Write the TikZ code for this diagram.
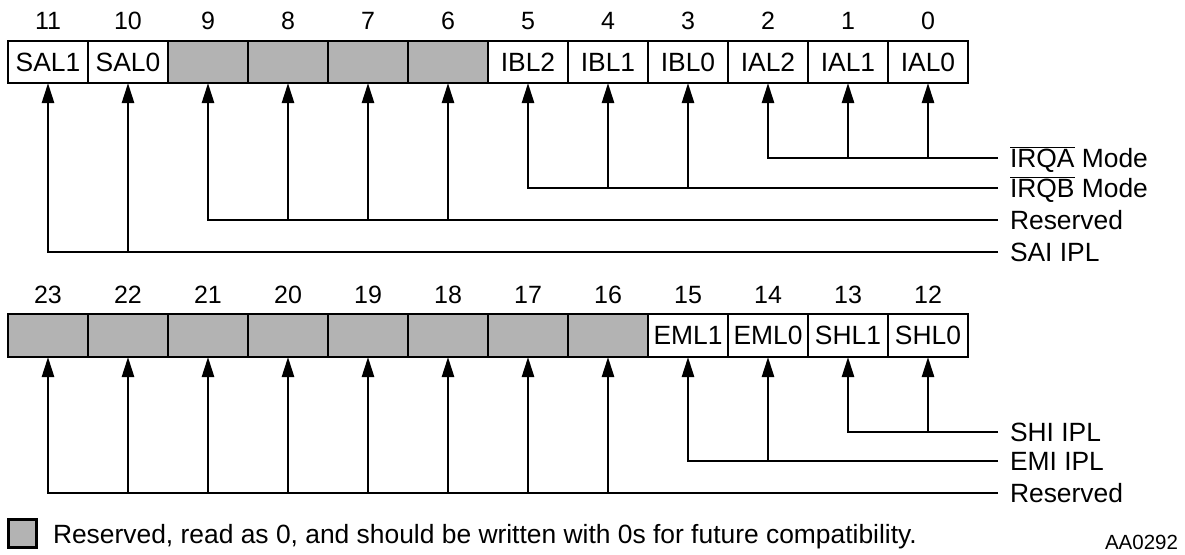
\documentclass[tikz,border=0pt]{standalone}
\usepackage{fontspec}
\setmainfont{Liberation Sans}
\usetikzlibrary{arrows.meta}
\definecolor{resgray}{RGB}{179,179,179}
\newcommand{\ovl}[1]{$\overline{\hbox{#1}}$}
\begin{document}
\begin{tikzpicture}[x=1pt,y=-1pt,
  every node/.style={font=\fontsize{26.4}{30}\selectfont, inner sep=0pt, outer sep=0pt},
  bitbox/.style={draw, line width=2.6pt, minimum width=80pt, minimum height=42pt, anchor=north west},
  resbox/.style={bitbox, fill=resgray},
  bitnum/.style={font=\fontsize{25}{28}\selectfont},
  arr/.style={line width=2.6pt, line join=miter, -{Triangle[length=20pt,width=12pt]}},
  lbl/.style={anchor=base west}]
\useasboundingbox (0,0) rectangle (1185,554);

% ---------- top register (bits 11..0)
\node[bitbox] (b11) at (8,41) {SAL1};
\node[bitbox] (b10) at (88,41) {SAL0};
\node[resbox] (b9) at (168,41) {};
\node[resbox] (b8) at (248,41) {};
\node[resbox] (b7) at (328,41) {};
\node[resbox] (b6) at (408,41) {};
\node[bitbox] (b5) at (488,41) {IBL2};
\node[bitbox] (b4) at (568,41) {IBL1};
\node[bitbox] (b3) at (648,41) {IBL0};
\node[bitbox] (b2) at (728,41) {IAL2};
\node[bitbox] (b1) at (808,41) {IAL1};
\node[bitbox] (b0) at (888,41) {IAL0};
\foreach \b in {0,...,11} \node[bitnum] (n\b) at (b\b.north |- 0,21) {\b};

% ---------- bottom register (bits 23..12)
\node[resbox, minimum height=43pt] (b23) at (8,314) {};
\node[resbox, minimum height=43pt] (b22) at (88,314) {};
\node[resbox, minimum height=43pt] (b21) at (168,314) {};
\node[resbox, minimum height=43pt] (b20) at (248,314) {};
\node[resbox, minimum height=43pt] (b19) at (328,314) {};
\node[resbox, minimum height=43pt] (b18) at (408,314) {};
\node[resbox, minimum height=43pt] (b17) at (488,314) {};
\node[resbox, minimum height=43pt] (b16) at (568,314) {};
\node[bitbox, minimum height=43pt] (b15) at (648,314) {EML1};
\node[bitbox, minimum height=43pt] (b14) at (728,314) {EML0};
\node[bitbox, minimum height=43pt] (b13) at (808,314) {SHL1};
\node[bitbox, minimum height=43pt] (b12) at (888,314) {SHL0};
\foreach \b in {12,...,23} \node[bitnum] (n\b) at (b\b.north |- 0,295) {\b};

% ---------- labels and line ends (top)
\coordinate (eA) at (998,158);
\coordinate (eB) at (998,188);
\coordinate (eR1) at (998,220);
\coordinate (eS) at (998,252);
\node[lbl] (tA) at (1010,167.5) {\ovl{IRQA} Mode};
\node[lbl] (tB) at (1010,197.5) {\ovl{IRQB} Mode};
\node[lbl] (tR1) at (1010,229.5) {Reserved};
\node[lbl] (tS) at (1010,261.5) {SAI IPL};

\foreach \b in {0,1,2} \coordinate (j\b) at (b\b.south |- eA);
\foreach \b in {3,4,5} \coordinate (j\b) at (b\b.south |- eB);
\foreach \b in {6,7,8,9} \coordinate (j\b) at (b\b.south |- eR1);
\foreach \b in {10,11} \coordinate (j\b) at (b\b.south |- eS);

\draw[arr] (eA) -- (j2) -- (b2.south);
\draw[arr] (eB) -- (j5) -- (b5.south);
\draw[arr] (eR1) -- (j9) -- (b9.south);
\draw[arr] (eS) -- (j11) -- (b11.south);
\foreach \b in {0,1,3,4,6,7,8,10} \draw[arr] (j\b) -- (b\b.south);

% ---------- labels and line ends (bottom)
\coordinate (eH) at (998,432);
\coordinate (eE) at (998,461);
\coordinate (eR2) at (998,493);
\node[lbl] (tH) at (1010,441.5) {SHI IPL};
\node[lbl] (tE) at (1010,470.5) {EMI IPL};
\node[lbl] (tR2) at (1010,502.5) {Reserved};

\foreach \b in {12,13} \coordinate (j\b) at (b\b.south |- eH);
\foreach \b in {14,15} \coordinate (j\b) at (b\b.south |- eE);
\foreach \b in {16,...,23} \coordinate (j\b) at (b\b.south |- eR2);

\draw[arr] (eH) -- (j13) -- (b13.south);
\draw[arr] (eE) -- (j15) -- (b15.south);
\draw[arr] (eR2) -- (j23) -- (b23.south);
\foreach \b in {12,14,16,17,18,19,20,21,22} \draw[arr] (j\b) -- (b\b.south);

% ---------- legend
\node[draw, line width=2.6pt, fill=resgray, minimum size=28.4pt, anchor=north west] (leg) at (8.3,519.3) {};
\node[anchor=base west] (legtxt) at (53,543) {Reserved, read as 0, and should be written with 0s for future compatibility.};
\node[anchor=base east, font=\fontsize{20.5}{24}\selectfont] (id) at (1178,549) {AA0292};
\end{tikzpicture}
\end{document}
